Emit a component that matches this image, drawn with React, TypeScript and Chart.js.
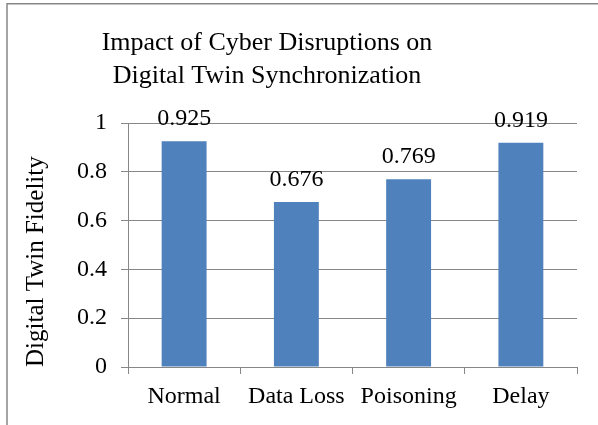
import React, { useEffect, useRef } from "react";
import { Chart, registerables } from "chart.js";

Chart.register(...registerables);

const categories = ["Normal", "Data Loss", "Poisoning", "Delay"];
const fidelity = [0.925, 0.676, 0.769, 0.919];
const titleLines = ["Impact of Cyber Disruptions on", "Digital Twin Synchronization"];
const yAxisTitle = "Digital Twin Fidelity";

const FONT = "'Liberation Serif', 'Times New Roman', serif";
const GRID = "#878787";
const BAR = "#4F81BD";

export default function App() {
  const ref = useRef<HTMLCanvasElement | null>(null);

  useEffect(() => {
    document.body.style.margin = "0";
    const canvas = ref.current;
    if (!canvas) return;

    const framePlugin = {
      id: "frame",
      beforeDraw(chart: any) {
        const ctx = chart.ctx;
        ctx.save();
        ctx.fillStyle = "#ffffff";
        ctx.fillRect(0, 0, chart.width, chart.height);
        ctx.strokeStyle = GRID;
        ctx.lineWidth = 1.5;
        ctx.strokeRect(7, 3.75, chart.width + 20, chart.height + 20);
        ctx.restore();
      },
      afterDraw(chart: any) {
        const ctx = chart.ctx;
        ctx.save();
        ctx.fillStyle = "#000000";
        ctx.font = `26px ${FONT}`;
        ctx.textAlign = "center";
        ctx.textBaseline = "alphabetic";
        titleLines.forEach((t, i) => ctx.fillText(t, 267, 50 + i * 33));
        ctx.restore();
      },
    };

    const labelPlugin = {
      id: "barLabels",
      afterDatasetsDraw(chart: any) {
        const ctx = chart.ctx;
        const meta = chart.getDatasetMeta(0);
        ctx.save();
        ctx.fillStyle = "#000000";
        ctx.font = `24px ${FONT}`;
        ctx.textAlign = "center";
        ctx.textBaseline = "alphabetic";
        meta.data.forEach((bar: any, i: number) => {
          ctx.fillText(String(fidelity[i]), bar.x, bar.y - 16);
        });
        ctx.restore();
      },
    };

    const chart = new Chart(canvas, {
      type: "bar",
      data: {
        labels: categories,
        datasets: [
          {
            data: fidelity,
            backgroundColor: BAR,
            borderWidth: 0,
            barPercentage: 0.4,
            categoryPercentage: 1.0,
          },
        ],
      },
      options: {
        responsive: false,
        animation: false,
        devicePixelRatio: 1,
        layout: { padding: { left: 0, right: 21, top: 123, bottom: 0 } },
        plugins: {
          legend: { display: false },
          title: { display: false },
          tooltip: { enabled: false },
        },
        scales: {
          x: {
            grid: {
              drawOnChartArea: false,
              drawTicks: true,
              tickLength: 7,
              color: GRID,
              offset: true,
            },
            border: { display: true, color: GRID, width: 1 },
            ticks: {
              color: "#000000",
              font: { family: FONT, size: 24 },
              padding: 8,
              maxRotation: 0,
              autoSkip: false,
            },
            afterFit(scale: any) {
              scale.height = 58;
            },
          },
          y: {
            min: 0,
            max: 1,
            ticks: {
              stepSize: 0.2,
              color: "#000000",
              font: { family: FONT, size: 24 },
              padding: 14,
              callback: (v: any) => String(Math.round(Number(v) * 10) / 10),
            },
            grid: {
              color: GRID,
              drawTicks: true,
              tickLength: 7,
              lineWidth: 1,
            },
            border: { display: true, color: GRID, width: 1 },
            title: {
              display: true,
              text: yAxisTitle,
              align: "start",
              color: "#000000",
              font: { family: FONT, size: 25, lineHeight: 1.2 },
              padding: { top: 21, bottom: 0 },
            },
            afterFit(scale: any) {
              scale.width = 128;
            },
          },
        },
      },
      plugins: [framePlugin, labelPlugin],
    } as any);

    return () => chart.destroy();
  }, []);

  return (
    <canvas
      ref={ref}
      width={598}
      height={425}
      style={{ display: "block", width: 598, height: 425 }}
    />
  );
}
